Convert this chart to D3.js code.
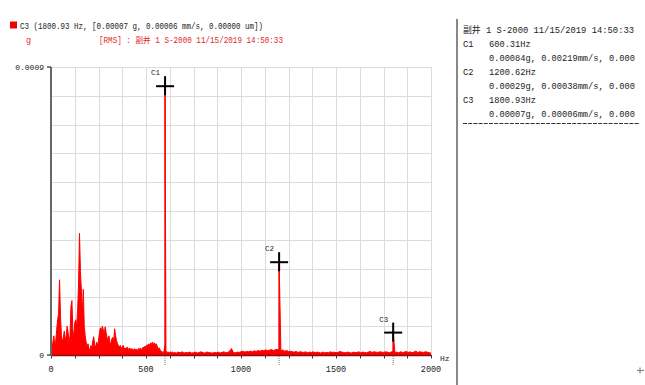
<!DOCTYPE html>
<html>
<head>
<meta charset="utf-8">
<script src="https://cdn.jsdelivr.net/npm/d3@7/dist/d3.min.js"></script>
<style>
  html, body { margin: 0; padding: 0; background: #fff; }
  svg { display: block; }
  text { font-family: "Liberation Mono", "DejaVu Sans Mono", "Noto Sans CJK SC", monospace; }
</style>
</head>
<body>
<svg id="chart" width="645" height="385"></svg>
<script>
// ---------------- DATA ----------------
// Spectrum amplitude (micro-g), low band 0..645 Hz in 5 Hz bins
const lowBandStartHz = 0;
const lowBandStepHz = 5;
const lowBandUg = [
  10, 25, 40, 60, 30, 45, 80, 110, 130, 235,
  120, 60, 40, 55, 75, 45, 60, 90, 70, 35,
  60, 150, 170, 80, 55, 100, 110, 90, 140, 220,
  380, 260, 200, 130, 205, 90, 60, 40, 25, 35,
  20, 15, 30, 20, 45, 57, 30, 25, 40, 30,
  45, 70, 85, 75, 90, 80, 65, 88, 70, 55,
  45, 60, 40, 35, 50, 55, 45, 82, 60, 45,
  35, 30, 25, 30, 20, 25, 30, 20, 22, 18,
  25, 20, 18, 22, 15, 20, 18, 15, 20, 16,
  18, 14, 20, 18, 22, 16, 20, 25, 22, 28,
  25, 32, 30, 35, 30, 38, 35, 40, 32, 38,
  30, 35, 25, 20, 22, 15, 12, 10, 8, 12,
  35, 12, 10, 8, 9, 7, 10, 8, 9, 7
];
// high band 650..2000 Hz in 10 Hz bins
const highBandStartHz = 650;
const highBandStepHz = 10;
const highBandUg = [
  8, 6, 9, 7, 10, 6, 8, 7, 9, 6,
  7, 9, 6, 8, 10, 7, 6, 9, 8, 7,
  6, 8, 7, 9, 6, 8, 10, 7, 8, 12,
  20, 8, 7, 9, 8, 10, 12, 9, 11, 10,
  12, 10, 13, 11, 14, 12, 15, 13, 16, 14,
  15, 17, 14, 16, 18, 15, 13, 16, 12, 14,
  11, 12, 10, 9, 11, 8, 10, 9, 8, 10,
  7, 9, 8, 10, 7, 9, 8, 6, 9, 7,
  8, 7, 10, 8, 9, 7, 8, 11, 9, 8,
  7, 9, 8, 6, 9, 7, 8, 10, 7, 9,
  8, 7, 9, 11, 8, 10, 9, 8, 10, 9,
  8, 10, 9, 7, 9, 12, 8, 9, 7, 10,
  8, 9, 11, 8, 10, 7, 9, 12, 8, 10,
  9, 8, 10, 9, 7, 6
];
// Cursors
const cursorNames = ["C1", "C2", "C3"];
const cursorHz = [600.31, 1200.62, 1800.93];
const cursorG = [0.00084, 0.00029, 0.00007];
const cursorMmS = [0.00219, 0.00038, 0.00006];
const cursorUm = [0.00000, 0.00000, 0.00000];
// Axes
const xTicks = [0, 500, 1000, 1500, 2000];
const xGridStepHz = 125;
const yTicks = [0, 0.0009];
const yTickLabels = ["0", "0.0009"];
const yGridStep = 0.00009;
const stationLabel = "副井 1 S-2000 11/15/2019 14:50:33";

// ---------------- BUILD ----------------
const svg = d3.select("#chart");
const x = d3.scaleLinear().domain([0, 2000]).range([51, 431]);
const y = d3.scaleLinear().domain([0, 0.0009]).range([355, 67]);

// grid
const gridX = d3.range(0, 2000 + 1, xGridStepHz);
const gridY = d3.range(0, 10 + 1).map(i => i * yGridStep);
const grid = svg.append("g");
grid.selectAll("line.gx").data(gridX).join("line")
  .attr("x1", d => Math.round(x(d)) + 0.5).attr("x2", d => Math.round(x(d)) + 0.5)
  .attr("y1", y(0.0009)).attr("y2", y(0))
  .attr("stroke", "#dcdcdc").attr("stroke-width", 1);
grid.selectAll("line.gy").data(gridY).join("line")
  .attr("y1", d => Math.round(y(d)) + 0.5).attr("y2", d => Math.round(y(d)) + 0.5)
  .attr("x1", x(0)).attr("x2", x(2000))
  .attr("stroke", "#dcdcdc").attr("stroke-width", 1);

// spectrum points
const spectrum = [];
lowBandUg.forEach((v, i) => spectrum.push({ hz: lowBandStartHz + i * lowBandStepHz, g: v * 1e-6 }));
highBandUg.forEach((v, i) => spectrum.push({ hz: highBandStartHz + i * highBandStepHz, g: v * 1e-6 }));
cursorHz.forEach((hz, i) => spectrum.push({ hz: hz, g: cursorG[i] }));
spectrum.sort((a, b) => a.hz - b.hz);

const area = d3.area().x(d => x(d.hz)).y0(y(0)).y1(d => y(d.g));
const line = d3.line().x(d => x(d.hz)).y(d => y(d.g));
svg.append("path").datum(spectrum).attr("d", area).attr("fill", "#ff0000");
svg.append("path").datum(spectrum).attr("d", line).attr("fill", "none").attr("stroke", "#ff0000").attr("stroke-width", 1);

// cursor vertical lines
svg.selectAll("line.cur").data(cursorHz).join("line")
  .attr("x1", d => x(d)).attr("x2", d => x(d))
  .attr("y1", y(0)).attr("y2", (d, i) => y(cursorG[i]))
  .attr("stroke", "#ff0000").attr("stroke-width", 1);

// x axis
const xAxisG = svg.append("g");
xAxisG.append("line").attr("x1", x(0)).attr("x2", x(2000)).attr("y1", 355.5).attr("y2", 355.5)
  .attr("stroke", "#8a1010").attr("stroke-width", 1.5);
xAxisG.selectAll("line.xt").data(gridX).join("line")
  .attr("x1", d => Math.round(x(d)) + 0.5).attr("x2", d => Math.round(x(d)) + 0.5)
  .attr("y1", 355).attr("y2", 358.5).attr("stroke", "#333").attr("stroke-width", 1);
xAxisG.selectAll("text.xl").data(xTicks).join("text")
  .attr("x", d => x(d)).attr("y", 372).attr("text-anchor", "middle")
  .attr("font-size", 8.5).attr("fill", "#222").text(d => d);
xAxisG.append("text").attr("x", 440).attr("y", 361).attr("font-size", 8).attr("fill", "#222").text("Hz");
// cursor dotted ticks
svg.selectAll("line.cdot").data(cursorHz).join("line")
  .attr("x1", d => x(d)).attr("x2", d => x(d))
  .attr("y1", 356).attr("y2", 366)
  .attr("stroke", "#777").attr("stroke-width", 1).attr("stroke-dasharray", "1,1");

// y axis
const yAxisG = svg.append("g");
yAxisG.append("line").attr("x1", 51).attr("x2", 51).attr("y1", y(0.0009)).attr("y2", y(0) + 1)
  .attr("stroke", "#666").attr("stroke-width", 2);
yAxisG.selectAll("line.yt").data(yTicks).join("line")
  .attr("x1", 47).attr("x2", 51).attr("y1", d => y(d)).attr("y2", d => y(d))
  .attr("stroke", "#555").attr("stroke-width", 1.5);
yAxisG.selectAll("text.yl").data(yTicks).join("text")
  .attr("x", 44).attr("y", d => y(d) + 3).attr("text-anchor", "end")
  .attr("font-size", 8).attr("fill", "#222").text((d, i) => yTickLabels[i]);

// cursor crosses
const cur = svg.selectAll("g.cursor").data(cursorHz).join("g")
  .attr("transform", (d, i) => `translate(${x(d)},${y(cursorG[i])})`);
cur.append("line").attr("x1", -9).attr("x2", 9).attr("y1", 0).attr("y2", 0).attr("stroke", "#000").attr("stroke-width", 2);
cur.append("line").attr("x1", 0).attr("x2", 0).attr("y1", -10).attr("y2", 9).attr("stroke", "#000").attr("stroke-width", 2);
cur.append("text").attr("x", -14).attr("y", -11).attr("font-size", 7.5).attr("fill", "#222")
  .text((d, i) => cursorNames[i]);

// header
svg.append("rect").attr("x", 10).attr("y", 21.5).attr("width", 7).attr("height", 7).attr("fill", "#ee0000");
const fmt5 = d3.format(".5f");
const header1 = `${cursorNames[2]} (${cursorHz[2].toFixed(2)} Hz, [${fmt5(cursorG[2])} g, ${fmt5(cursorMmS[2])} mm/s, ${fmt5(cursorUm[2])} um])`;
svg.append("text").attr("x", 20).attr("y", 28.5).attr("font-size", 8.5).attr("fill", "#222")
  .attr("textLength", 243).attr("lengthAdjust", "spacingAndGlyphs").text(header1);
svg.append("text").attr("x", 26).attr("y", 43).attr("font-size", 8.5).attr("fill", "#e02828").text("g");
svg.append("text").attr("x", 99).attr("y", 43).attr("font-size", 8.5).attr("fill", "#e02828")
  .attr("textLength", 184).attr("lengthAdjust", "spacingAndGlyphs").text("[RMS] : " + stationLabel);

// right panel
svg.append("line").attr("x1", 457).attr("x2", 457).attr("y1", 19).attr("y2", 385)
  .attr("stroke", "#888").attr("stroke-width", 2);
const rp = svg.append("g");
rp.append("text").attr("x", 463).attr("y", 32.5).attr("font-size", 8.7).attr("fill", "#222")
  .attr("textLength", 171).attr("lengthAdjust", "spacingAndGlyphs").text(stationLabel);
cursorNames.forEach((n, i) => {
  const by = 46.5 + i * 28;
  rp.append("text").attr("x", 463).attr("y", by).attr("font-size", 8.7).attr("fill", "#222").text(n);
  rp.append("text").attr("x", 489).attr("y", by).attr("font-size", 8.7).attr("fill", "#222")
    .text(cursorHz[i].toFixed(2) + "Hz");
  // the panel only shows the start of the third value ("0.000...")
  rp.append("text").attr("x", 489).attr("y", by + 14).attr("font-size", 8.7).attr("fill", "#222")
    .text(`${fmt5(cursorG[i])}g, ${fmt5(cursorMmS[i])}mm/s, ${fmt5(cursorUm[i]).slice(0, 5)}`);
});
rp.append("line").attr("x1", 463).attr("x2", 640).attr("y1", 123.5).attr("y2", 123.5)
  .attr("stroke", "#333").attr("stroke-width", 1).attr("stroke-dasharray", "4,1.2");

// small arrow icon bottom right
svg.append("line").attr("x1", 637).attr("x2", 644).attr("y1", 370.5).attr("y2", 370.5).attr("stroke", "#888").attr("stroke-width", 1.2);
svg.append("line").attr("x1", 640).attr("x2", 640).attr("y1", 367.5).attr("y2", 373.5).attr("stroke", "#888").attr("stroke-width", 1.2);
</script>
</body>
</html>
